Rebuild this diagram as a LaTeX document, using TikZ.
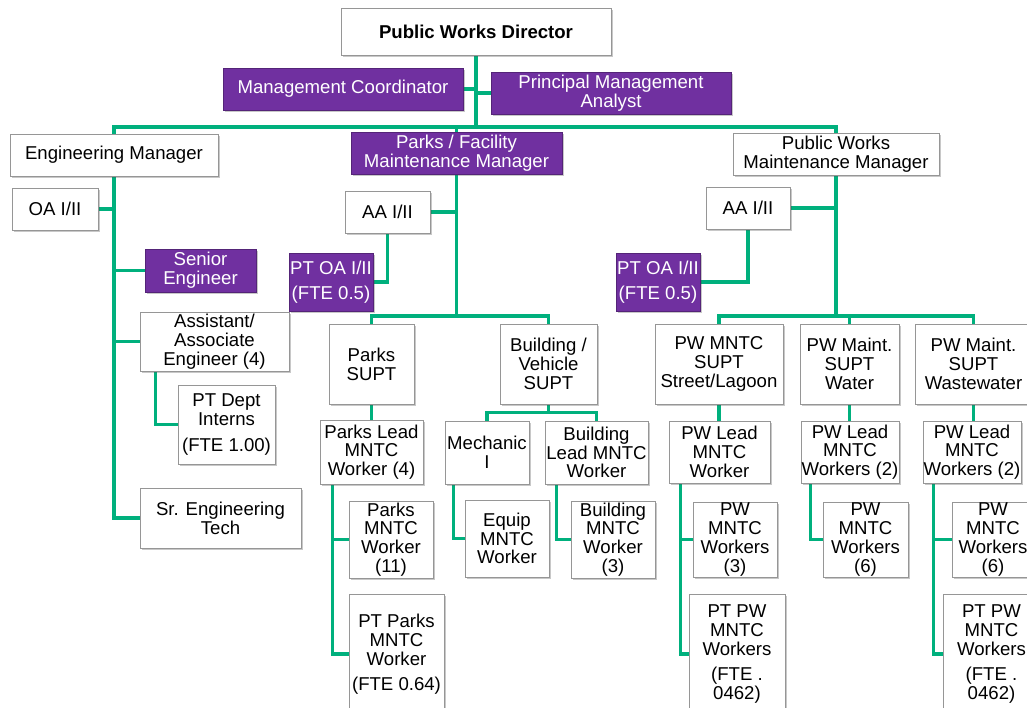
\documentclass[tikz,border=0pt]{standalone}
\usepackage{fontspec}
\setmainfont{Liberation Sans}
\usetikzlibrary{shadows}

\definecolor{orgpurple}{RGB}{112,48,160}
\definecolor{orggreen}{RGB}{0,176,125}
\definecolor{boxline}{RGB}{150,150,150}

\pgfdeclarelayer{paper}
\pgfdeclarelayer{lines}
\pgfsetlayers{paper,lines,main}

\tikzset{
  card/.style={draw=boxline, line width=0.8pt, fill=white, align=center,
    inner sep=0.5pt, font=\fontsize{18.6}{18.8}\selectfont,
    drop shadow={shadow xshift=1.6pt, shadow yshift=-1.6pt, opacity=0.3, fill=black!70}},
  pcard/.style={card, fill=orgpurple, draw=orgpurple!75!black, text=white},
  headcard/.style={card, font=\fontsize{18.6}{18.8}\selectfont\bfseries},
  link/.style={draw=orggreen, line width=3.6pt},
}

% \placebox{name}{style}{x1}{y1}{x2}{y2}{text}
\newcommand\placebox[7]{%
  \node[#2, minimum width={(#5-#3)*1pt}, minimum height={(#6-#4)*1pt}]
    (#1) at ({(#3+#5)/2},{(#4+#6)/2}) {#7};}

\begin{document}
\begin{tikzpicture}[x=1pt, y=-1pt]
\useasboundingbox (0,0) rectangle (1027,708);
\begin{pgfonlayer}{paper}
  \fill[white] (0,0) rectangle (1027,708);
\end{pgfonlayer}

% top level
\placebox{dir}{headcard}{341}{8}{611}{55}{Public Works Director}
\placebox{mc}{pcard}{223}{68}{463}{110}{Management Coordinator}
\placebox{pma}{pcard}{491}{72}{731}{114}{Principal Management\\Analyst}

% managers
\placebox{eng}{card}{10}{134}{218}{176}{Engineering Manager}
\placebox{pfmm}{pcard}{351}{132}{562}{174}{Parks / Facility\\Maintenance Manager}
\placebox{pwmm}{card}{733}{133}{939}{175}{Public Works\\Maintenance Manager}

% engineering
\placebox{oa}{card}{12}{188}{98}{230}{OA I/II}
\placebox{seng}{pcard}{145}{249}{256}{292}{Senior\\Engineer}
\placebox{asst}{card}{140}{312}{289}{371}{Assistant/\\Associate\\Engineer (4)}
\placebox{intern}{card}{178}{385}{275}{464}{PT Dept\\Interns\\[7pt](FTE 1.00)}
\placebox{sret}{card}{140}{488}{301}{548}{Sr. Engineering\\Tech}

% parks / facility
\placebox{aa1}{card}{345}{191}{430}{233}{AA I/II}
\placebox{ptoa1}{pcard}{289}{253}{373}{311}{PT OA I/II\\[6pt](FTE 0.5)}
\placebox{parks}{card}{329}{324}{414}{404}{Parks\\SUPT}
\placebox{bv}{card}{500}{324}{597}{404}{Building /\\Vehicle\\SUPT}
\placebox{plead}{card}{320}{420}{423}{484}{Parks Lead\\MNTC\\Worker (4)}
\placebox{mech}{card}{445}{421}{529}{484}{Mechanic\\I}
\placebox{blead}{card}{545}{421}{648}{484}{Building\\Lead MNTC\\Worker}
\placebox{pmw}{card}{349}{501}{433}{578}{Parks\\MNTC\\Worker\\(11)}
\placebox{ptpark}{card}{349}{594}{444}{714}{PT Parks\\MNTC\\Worker\\[6pt](FTE 0.64)}
\placebox{equip}{card}{465}{500}{549}{577}{Equip\\MNTC\\Worker}
\placebox{bmw}{card}{571}{501}{655}{578}{Building\\MNTC\\Worker\\(3)}

% public works maintenance
\placebox{aa2}{card}{706}{187}{790}{229}{AA I/II}
\placebox{ptoa2}{pcard}{616}{253}{700}{311}{PT OA I/II\\[6pt](FTE 0.5)}
\placebox{sl}{card}{655}{324}{783}{404}{PW MNTC\\SUPT\\Street/Lagoon}
\placebox{wt}{card}{800}{324}{899}{404}{PW Maint.\\SUPT\\Water}
\placebox{ww}{card}{915}{324}{1032}{404}{PW Maint.\\SUPT\\Wastewater}
\placebox{pwl1}{card}{669}{421}{770}{483}{PW Lead\\MNTC\\Worker}
\placebox{pwl2}{card}{801}{421}{899}{483}{PW Lead\\MNTC\\Workers (2)}
\placebox{pwl3}{card}{923}{421}{1021}{483}{PW Lead\\MNTC\\Workers (2)}
\placebox{pwm3}{card}{693}{502}{777}{577}{PW\\MNTC\\Workers\\(3)}
\placebox{ptpw1}{card}{689}{594}{785}{714}{PT PW\\MNTC\\Workers\\[6pt](FTE .\\0462)}
\placebox{pwm6a}{card}{823}{502}{908}{577}{PW\\MNTC\\Workers\\(6)}
\placebox{pwm6b}{card}{952}{502}{1034}{577}{PW\\MNTC\\Workers\\(6)}
\placebox{ptpw2}{card}{943}{594}{1040}{714}{PT PW\\MNTC\\Workers\\[6pt](FTE .\\0462)}

\coordinate (bus) at (0,127);
\coordinate (sbus) at (0,316);

\begin{pgfonlayer}{lines}
  % director level
  \draw[link] (dir.south) -- (dir.south |- bus);
  \draw[link] (mc.east) -- (mc.east -| dir.south);
  \draw[link] (pma.west) -- (pma.west -| dir.south);
  \draw[link] (eng.north) |- (pwmm.north |- bus) -- (pwmm.north);
  \draw[link] (pfmm.north) -- (pfmm.north |- bus);

  % engineering
  \draw[link] (eng.south) |- (sret.west);
  \draw[link] (oa.east) -- (oa.east -| eng.south);
  \draw[link] (seng.west) -- (seng.west -| eng.south);
  \draw[link] (asst.west) -- (asst.west -| eng.south);
  \draw[link] ([xshift=16pt]asst.south west) |- (intern.west);

  % parks / facility
  \draw[link] (pfmm.south) -- (pfmm.south |- sbus);
  \draw[link] (aa1.east) -- (aa1.east -| pfmm.south);
  \draw[link] (aa1.south) |- (ptoa1.east);
  \draw[link] (parks.north) |- (bv.north |- sbus) -- (bv.north);
  \draw[link] (parks.south) -- (parks.south |- plead.north);
  \draw[link] ([xshift=13pt]plead.south west) |- (ptpark.west);
  \draw[link] ([xshift=13pt]plead.south west) |- (pmw.west);
  \coordinate (bvj) at ([yshift=-8pt]bv.south);
  \draw[link] (bv.south) -- (bvj);
  \draw[link] (mech.north) |- (bvj) -| (blead.north);
  \draw[link] ([xshift=9pt]mech.south west) |- (equip.west);
  \draw[link] ([xshift=12pt]blead.south west) |- (bmw.west);

  % public works maintenance
  \draw[link] (pwmm.south) -- (pwmm.south |- sbus);
  \draw[link] (aa2.east) -- (aa2.east -| pwmm.south);
  \draw[link] (aa2.south) |- (ptoa2.east);
  \draw[link] (sl.north) |- (ww.north |- sbus) -- (ww.north);
  \draw[link] (wt.north) -- (wt.north |- sbus);
  \draw[link] (sl.south) -- (sl.south |- pwl1.north);
  \draw[link] (wt.south) -- (wt.south |- pwl2.north);
  \draw[link] (ww.south) -- (ww.south |- pwl3.north);
  \draw[link] ([xshift=12pt]pwl1.south west) |- (ptpw1.west);
  \draw[link] ([xshift=12pt]pwl1.south west) |- (pwm3.west);
  \draw[link] ([xshift=10pt]pwl2.south west) |- (pwm6a.west);
  \draw[link] ([xshift=11pt]pwl3.south west) |- (ptpw2.west);
  \draw[link] ([xshift=11pt]pwl3.south west) |- (pwm6b.west);
\end{pgfonlayer}
\end{tikzpicture}
\end{document}
